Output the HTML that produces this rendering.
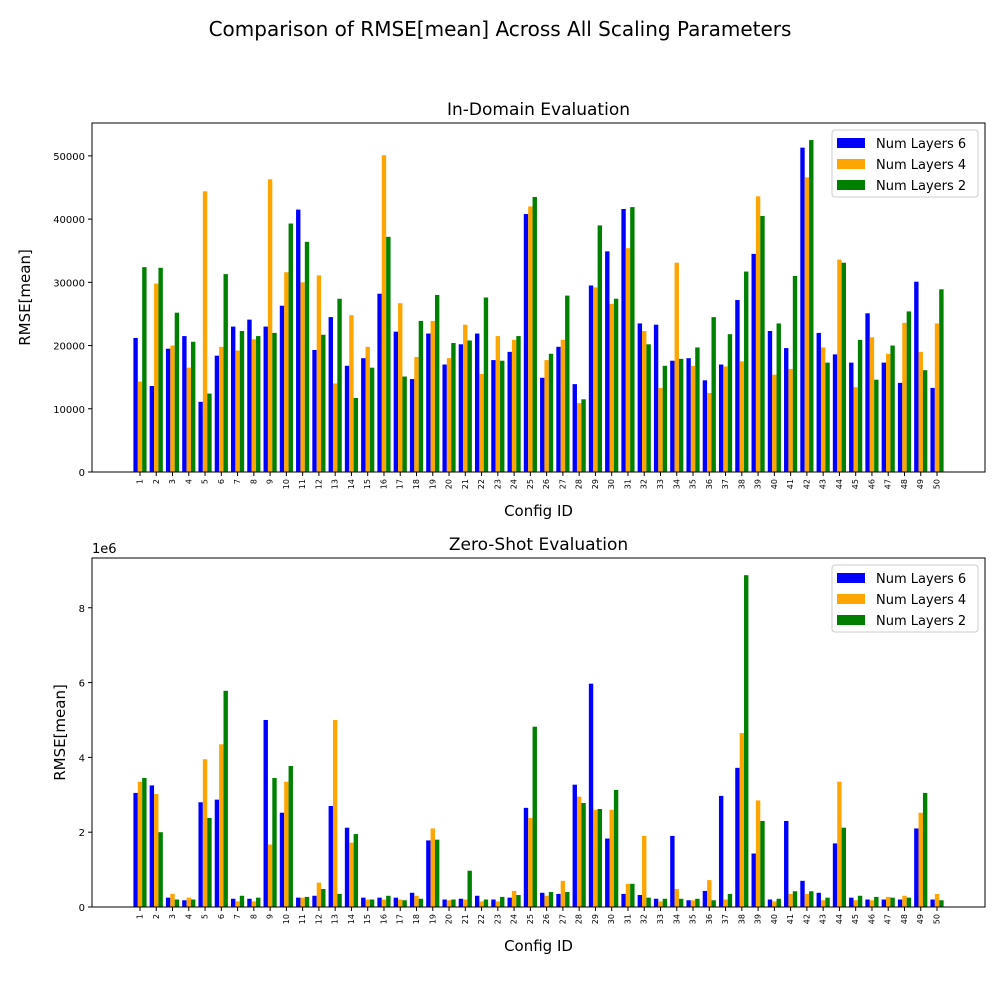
<!DOCTYPE html>
<html><head><meta charset="utf-8"><style>
body{margin:0;background:#fff;font-family:"Liberation Sans","DejaVu Sans",sans-serif}
svg text{font-family:"DejaVu Sans","Liberation Sans",sans-serif}
</style></head><body>
<svg id="chart" width="1000" height="1000" xmlns="http://www.w3.org/2000/svg">
<rect width="1000" height="1000" fill="#fff"/>
<text x="500" y="36" text-anchor="middle" font-size="20">Comparison of RMSE[mean] Across All Scaling Parameters</text>
</svg>
<script>
const categories = Array.from({length:50},(_,i)=>String(i+1));
const seriesNames = ["Num Layers 6","Num Layers 4","Num Layers 2"];
const inDomain6 = [21.2,13.6,19.5,21.5,11.1,18.4,23,24.1,23,26.3,41.5,19.3,24.5,16.8,18,28.2,22.2,14.7,21.9,17,20.2,21.9,17.7,19,40.8,14.9,19.8,13.9,29.5,34.9,41.6,23.5,23.3,17.6,18,14.5,17,27.2,34.5,22.3,19.6,51.3,22,18.6,17.3,25.1,17.3,14.1,30.1,13.3];
const inDomain4 = [14.3,29.8,20,16.5,44.4,19.8,19.2,21,46.3,31.6,30,31.1,14,24.8,19.8,50.1,26.7,18.2,23.9,18,23.3,15.5,21.5,20.9,42,17.7,20.9,10.9,29.2,26.6,35.4,22.3,13.3,33.1,16.8,12.5,16.7,17.5,43.6,15.4,16.3,46.6,19.7,33.6,13.4,21.3,18.7,23.6,19,23.5];
const inDomain2 = [32.4,32.3,25.2,20.6,12.4,31.3,22.3,21.5,22,39.3,36.4,21.7,27.4,11.7,16.5,37.2,15.1,23.9,28,20.4,20.8,27.6,17.6,21.5,43.5,18.7,27.9,11.5,39,27.4,41.9,20.2,16.8,17.9,19.7,24.5,21.8,31.7,40.5,23.5,31,52.5,17.3,33.1,20.9,14.6,20,25.4,16.1,28.9];
const zeroShot6 = [3.05,3.25,0.25,0.18,2.8,2.87,0.22,0.22,5.0,2.52,0.25,0.3,2.7,2.12,0.25,0.25,0.25,0.38,1.78,0.2,0.22,0.3,0.2,0.25,2.65,0.38,0.35,3.27,5.97,1.83,0.35,0.32,0.22,1.9,0.18,0.43,2.97,3.72,1.43,0.2,2.3,0.7,0.38,1.7,0.25,0.2,0.2,0.2,2.1,0.2];
const zeroShot4 = [3.35,3.02,0.35,0.25,3.95,4.35,0.15,0.15,1.67,3.35,0.25,0.65,5.0,1.72,0.2,0.2,0.2,0.3,2.1,0.18,0.2,0.15,0.15,0.43,2.38,0.3,0.7,2.95,2.6,2.6,0.62,1.9,0.15,0.48,0.18,0.72,0.2,4.65,2.85,0.15,0.35,0.35,0.18,3.35,0.18,0.18,0.27,0.3,2.52,0.35];
const zeroShot2 = [3.45,2.0,0.2,0.2,2.38,5.78,0.3,0.25,3.45,3.77,0.27,0.48,0.35,1.95,0.2,0.3,0.18,0.22,1.8,0.2,0.97,0.2,0.27,0.32,4.82,0.4,0.4,2.78,2.62,3.13,0.62,0.25,0.22,0.22,0.22,0.18,0.35,8.87,2.3,0.22,0.42,0.42,0.25,2.12,0.3,0.27,0.25,0.25,3.05,0.18];
const topTicks = [0,10000,20000,30000,40000,50000];
const bottomTicks = [0,2,4,6,8];
const colors = ["#0000ff","#ffa500","#008000"];
const NS="http://www.w3.org/2000/svg";
const svg=document.getElementById('chart');
function mk(tag,attrs,parent){const e=document.createElementNS(NS,tag);for(const k in attrs)e.setAttribute(k,attrs[k]);(parent||svg).appendChild(e);return e;}
function panel(cfg){
  const {L,R,T,B,ymax,series,ticks,title,name,scale,multLabel}=cfg;
  const g=mk('g',{});
  
  
  const n=categories.length,w=0.27;
  const xmin=-0.45-2.5,xmax=n-1+0.45+2.5;
  const xs=v=>L+(v-xmin)/(xmax-xmin)*(R-L);
  const ys=v=>B-v/ymax*(B-T);
  const bw=w*(R-L)/(xmax-xmin);
  series.forEach((arr,s)=>{
    arr.forEach((v,i)=>{
      const cx=xs(i+(s-1)*w);
      const val=v*scale;
      const r=mk('rect',{x:cx-bw/2,y:ys(val),width:bw,height:B-ys(val),fill:colors[s]},g);
      
      
    });
  });
  mk('rect',{x:L,y:T,width:R-L,height:B-T,fill:'none',stroke:'#000','stroke-width':1},g);
  categories.forEach((c,i)=>{
    const x=xs(i);
    mk('line',{x1:x,y1:B,x2:x,y2:B+4,stroke:'#000'},g);
    const t=mk('text',{x:0,y:0,'font-size':8,'text-anchor':'end','dominant-baseline':'central',transform:`translate(${x},${B+7}) rotate(-90)`},g);
    t.textContent=c;
    
    
  });
  ticks.forEach(tv=>{
    const y=ys(tv);
    mk('line',{x1:L-4,y1:y,x2:L,y2:y,stroke:'#000'},g);
    const t=mk('text',{x:L-7,y:y+4,'font-size':10,'text-anchor':'end'},g);
    t.textContent=String(tv);
    
    
  });
  const tt=mk('text',{x:(L+R)/2,y:T-8,'font-size':17,'text-anchor':'middle'},g);
  tt.textContent=title;
  
  
  const xl=mk('text',{x:(L+R)/2,y:B+44,'font-size':15,'text-anchor':'middle'},g);
  xl.textContent='Config ID';
  
  
  const yl=mk('text',{x:0,y:0,'font-size':15,'text-anchor':'middle',transform:`translate(${cfg.ylx},${(T+B)/2}) rotate(-90)`},g);
  yl.textContent='RMSE[mean]';
  
  
  if(multLabel){const m=mk('text',{x:L,y:T-5,'font-size':13},g);m.textContent=multLabel;
    
    }
  const lg=mk('g',{},g);
  
  
  mk('rect',{x:832,y:T+7,width:146,height:67,fill:'#fff',stroke:'#ccc',rx:3},lg);
  seriesNames.forEach((s,k)=>{
    const yy=T+15+k*21;
    mk('rect',{x:837,y:yy,width:28,height:10,fill:colors[k]},lg);
    const t=mk('text',{x:876,y:yy+10,'font-size':13},lg);
    t.textContent=s;
    
    
  });
}
panel({L:92,R:985,T:123,B:472,ymax:55200,series:[inDomain6,inDomain4,inDomain2],ticks:topTicks,title:'In-Domain Evaluation',name:'in-domain-panel',scale:1000,ylx:30});
panel({L:92,R:985,T:558,B:907,ymax:9.33,series:[zeroShot6,zeroShot4,zeroShot2],ticks:bottomTicks,title:'Zero-Shot Evaluation',name:'zero-shot-panel',scale:1,ylx:65,multLabel:'1e6'});
</script>
</body></html>
